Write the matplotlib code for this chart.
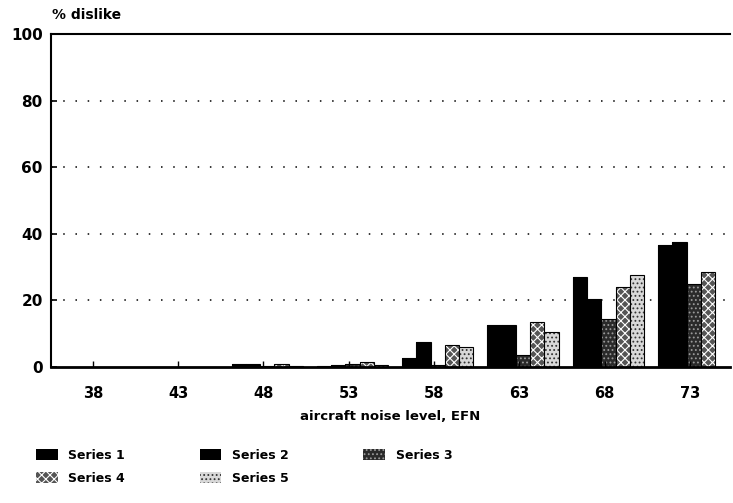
import matplotlib.pyplot as plt
import numpy as np
from matplotlib.patches import Patch

# noise levels (EFN) and % dislike per series
categories = ['38', '43', '48', '53', '58', '63', '68', '73']
series_names = ['Series 1', 'Series 2', 'Series 3', 'Series 4', 'Series 5']
s1 = [0, 0, 1.0, 0.2, 2.8, 12.6, 27.0, 36.5]
s2 = [0, 0, 0.8, 0.5, 7.6, 12.6, 20.3, 37.5]
s3 = [0, 0, 0.3, 0.8, 0.5, 3.6, 14.5, 25.0]
s4 = [0, 0, 0.8, 1.5, 6.6, 13.6, 24.0, 28.6]
s5 = [0, 0, 0.2, 0.5, 6.1, 10.6, 27.5, 0]
y_ticks = [0, 20, 40, 60, 80, 100]

plt.rcParams['font.family'] = ['DejaVu Sans']
plt.rcParams['font.weight'] = 'bold'
plt.rcParams['hatch.linewidth'] = 0.8

styles = [
    dict(facecolor='black', edgecolor='black', hatch=None),
    dict(facecolor='black', edgecolor='black', hatch=None),
    dict(facecolor='#2a2a2a', edgecolor='#9a9a9a', hatch='....'),
    dict(facecolor='#555555', edgecolor='white', hatch='xxxx'),
    dict(facecolor='#d8d8d8', edgecolor='#333333', hatch='....'),
]

fig = plt.figure(figsize=(7.33, 5.03), dpi=100)
ax = fig.add_axes([0.0696, 0.2704, 0.9264, 0.662])

x = np.arange(len(categories))
w = 0.167
first = -0.29
for j, vals in enumerate([s1, s2, s3, s4, s5]):
    st = styles[j]
    ax.bar(x + first + j * w, vals, width=w, facecolor=st['facecolor'],
           edgecolor=st['edgecolor'], hatch=st['hatch'], linewidth=0)
    ax.bar(x + first + j * w, vals, width=w, facecolor='none',
           edgecolor='black', linewidth=0.8)

ax.set_xlim(-0.49, 7.47)
ax.set_ylim(0, 100)
ax.set_yticks(y_ticks)
ax.set_yticklabels([str(v) for v in y_ticks], fontsize=11, fontweight='bold')
ax.set_xticks(x)
ax.set_xticklabels(categories, fontsize=10.5, fontweight='bold')
ax.tick_params(axis='y', direction='in', length=4, width=1.2, pad=6)
ax.tick_params(axis='x', direction='in', length=4, width=1, pad=14)

for v in [20, 40, 60, 80]:
    ax.axhline(v, color='black', linestyle=(0, (1, 7)), linewidth=1.1, zorder=0)

ax.spines['right'].set_visible(False)
ax.spines['left'].set_linewidth(1.5)
ax.spines['bottom'].set_linewidth(2)
ax.spines['top'].set_linewidth(1.5)

ax.set_xlabel('aircraft noise level, EFN', fontsize=9.5, fontweight='bold', labelpad=6)
fig.text(0.071, 0.956, '% dislike', fontsize=10, fontweight='bold', ha='left', va='bottom')

handles = []
for j in range(5):
    st = styles[j]
    handles.append(Patch(facecolor=st['facecolor'], edgecolor=st['edgecolor'],
                         hatch=st['hatch'], linewidth=0))
order = [0, 3, 1, 4, 2]
fig.legend([handles[i] for i in order], [series_names[i] for i in order],
           ncol=3, loc='upper left', bbox_to_anchor=(0.049, 0.107),
           frameon=False, fontsize=9, handlelength=1.75, handleheight=1.0,
           handletextpad=0.85, columnspacing=5.95, labelspacing=0.78,
           borderaxespad=0, borderpad=0)

fig.savefig('out.png', dpi=100)
